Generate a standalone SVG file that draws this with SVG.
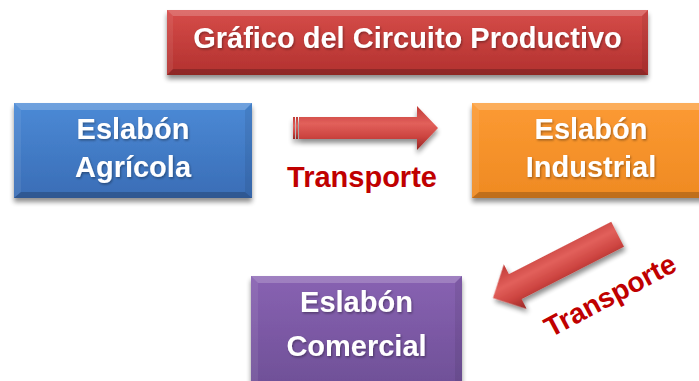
<svg xmlns="http://www.w3.org/2000/svg" width="699" height="381" viewBox="0 0 699 381">
<style>
.lbl{font-family:"Liberation Sans",Arial,sans-serif;font-weight:bold;font-size:29px;fill:#ffffff;text-anchor:middle}
.tr{font-family:"Liberation Sans",Arial,sans-serif;font-weight:bold;fill:#c00000;text-anchor:middle}
.bt{fill:#ffffff;fill-opacity:0.2}
.bl{fill:#ffffff;fill-opacity:0.07}
.br{fill:#000000;fill-opacity:0.07}
.bb{fill:#000000;fill-opacity:0.2}
</style>
<defs>
<filter id="sh" x="-10%" y="-20%" width="120%" height="150%">
<feGaussianBlur in="SourceAlpha" stdDeviation="2.5"/>
<feOffset dx="0" dy="4" result="b"/>
<feComponentTransfer><feFuncA type="linear" slope="0.45"/></feComponentTransfer>
<feMerge><feMergeNode/><feMergeNode in="SourceGraphic"/></feMerge>
</filter>
<filter id="ts" x="-5%" y="-20%" width="110%" height="150%">
<feDropShadow dx="1" dy="1.5" stdDeviation="1" flood-color="#000000" flood-opacity="0.35"/>
</filter>
<linearGradient id="gRed" x1="0" y1="0" x2="0" y2="1">
<stop offset="0" stop-color="#d64c49"/><stop offset="1" stop-color="#b2312f"/>
</linearGradient>
<linearGradient id="gBlue" x1="0" y1="0" x2="0" y2="1">
<stop offset="0" stop-color="#4b8ad6"/><stop offset="1" stop-color="#3a6db6"/>
</linearGradient>
<linearGradient id="gOra" x1="0" y1="0" x2="0" y2="1">
<stop offset="0" stop-color="#fc9a33"/><stop offset="1" stop-color="#ef8a22"/>
</linearGradient>
<linearGradient id="gPur" x1="0" y1="0" x2="0" y2="1">
<stop offset="0" stop-color="#8862b2"/><stop offset="1" stop-color="#6e4f96"/>
</linearGradient>
<linearGradient id="gArr" x1="0" y1="0" x2="0" y2="1">
<stop offset="0" stop-color="#c03a36"/><stop offset="0.4" stop-color="#e2605b"/><stop offset="0.7" stop-color="#cc4440"/><stop offset="1" stop-color="#962624"/>
</linearGradient>
</defs>

<g id="title">
<rect x="167" y="10" width="481" height="65" fill="url(#gRed)" filter="url(#sh)"/>
<polygon class="bt" points="167,10 648,10 642,16 173,16"/>
<polygon class="bl" points="167,10 173,16 173,69 167,75"/>
<polygon class="br" points="648,10 642,16 642,69 648,75"/>
<polygon class="bb" points="167,75 173,69 642,69 648,75"/>
<text class="lbl" x="407.5" y="48" filter="url(#ts)">Gráfico del Circuito Productivo</text>
</g>

<g id="agricola">
<rect x="14" y="103" width="238" height="95" fill="url(#gBlue)" filter="url(#sh)"/>
<polygon class="bt" points="14,103 252,103 245,110 21,110"/>
<polygon class="bl" points="14,103 21,110 21,192 14,198"/>
<polygon class="br" points="252,103 245,110 245,192 252,198"/>
<polygon class="bb" points="14,198 21,192 245,192 252,198"/>
<text class="lbl" x="133" y="139" filter="url(#ts)">Eslabón</text>
<text class="lbl" x="133" y="177" filter="url(#ts)">Agrícola</text>
</g>

<g id="industrial">
<rect x="472" y="103" width="238" height="95" fill="url(#gOra)" filter="url(#sh)"/>
<polygon class="bt" points="472,103 710,103 703,110 479,110"/>
<polygon class="bl" points="472,103 479,110 479,192 472,198"/>
<polygon class="bb" points="472,198 479,192 703,192 710,198"/>
<text class="lbl" x="591" y="139" filter="url(#ts)">Eslabón</text>
<text class="lbl" x="591" y="177" filter="url(#ts)">Industrial</text>
</g>

<g id="comercial">
<rect x="251" y="276" width="211" height="115" fill="url(#gPur)" filter="url(#sh)"/>
<polygon class="bt" points="251,276 462,276 455,283 258,283"/>
<polygon class="bl" points="251,276 258,283 258,391 251,391"/>
<polygon class="br" points="462,276 455,283 455,391 462,391"/>
<text class="lbl" x="356.5" y="312" filter="url(#ts)">Eslabón</text>
<text class="lbl" x="356.5" y="356" filter="url(#ts)">Comercial</text>
</g>

<g id="connectors">
<g id="arrow1" filter="url(#sh)">
<rect x="293" y="117" width="2" height="22" fill="url(#gArr)"/>
<rect x="296" y="117" width="2" height="22" fill="url(#gArr)"/>
<path d="M299,117 L417,117 L417,106 L438,128 L417,150 L417,139 L299,139 Z" fill="url(#gArr)"/>
</g>
<text class="tr" x="362" y="187" font-size="29">Transporte</text>
<g id="arrow2" transform="translate(493,298) rotate(-27.1)" filter="url(#sh)">
<path d="M0,0 L25,-25 L25,-14 L140,-14 L140,14 L25,14 L25,25 Z" fill="url(#gArr)"/>
</g>
<text class="tr" transform="translate(610,295) rotate(-28)" x="0" y="10" font-size="28">Transporte</text>
</g>
</svg>
